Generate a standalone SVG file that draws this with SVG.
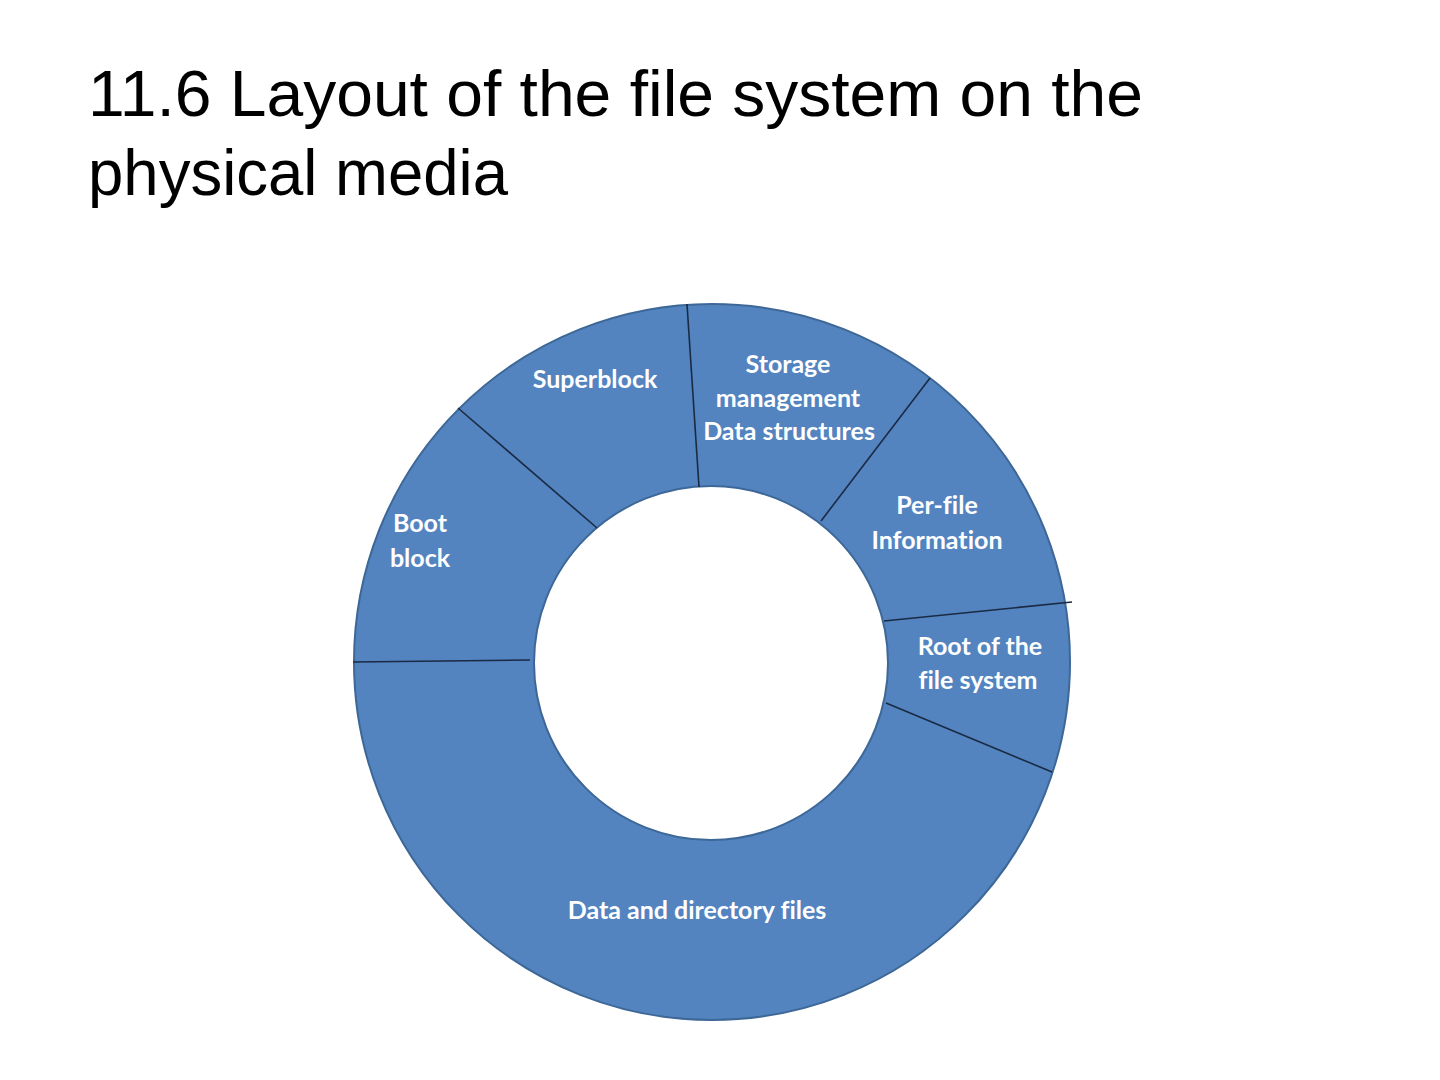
<svg xmlns="http://www.w3.org/2000/svg" width="1440" height="1080" viewBox="0 0 1440 1080">
<style>
.title{font-family:"Liberation Sans",Arial,sans-serif;font-size:64px;fill:#000}
.lbl{font-family:Lato,"Open Sans",sans-serif;font-weight:bold;font-size:25px;fill:#fff;text-anchor:middle;font-variant-ligatures:none}
.div{stroke:#1a2a44;stroke-width:1.6;fill:none}
</style>
<rect width="1440" height="1080" fill="#fff"/>
<g id="title">
<text class="title" x="88" y="116" textLength="1055" lengthAdjust="spacingAndGlyphs">11.6 Layout of the file system on the</text>
<text class="title" x="88" y="195" textLength="420" lengthAdjust="spacingAndGlyphs">physical media</text>
</g>
<g id="ring">
<path d="M 354 662 A 358 358 0 1 0 1070 662 A 358 358 0 1 0 354 662 Z M 534 663 A 177 177 0 1 1 888 663 A 177 177 0 1 1 534 663 Z" fill="#5384bf" fill-rule="evenodd" stroke="#3d6797" stroke-width="2"/>
</g>
<g id="connectors">
<line class="div" x1="353" y1="662" x2="530" y2="660"/>
<line class="div" x1="458" y1="408" x2="597" y2="528"/>
<line class="div" x1="687" y1="304" x2="699" y2="487"/>
<line class="div" x1="930" y1="378" x2="821" y2="521"/>
<line class="div" x1="884" y1="621" x2="1072" y2="602"/>
<line class="div" x1="886" y1="703" x2="1052" y2="772"/>
</g>
<g id="boot"><text class="lbl" x="420" y="532">Boot</text><text class="lbl" x="420" y="567">block</text></g>
<g id="superblock"><text class="lbl" x="595" y="388">Superblock</text></g>
<g id="storage"><text class="lbl" x="788" y="373">Storage</text><text class="lbl" x="788" y="407">management</text><text class="lbl" x="789" y="440">Data structures</text></g>
<g id="perfile"><text class="lbl" x="937" y="514">Per-file</text><text class="lbl" x="937" y="549">Information</text></g>
<g id="root"><text class="lbl" x="980" y="655">Root of the</text><text class="lbl" x="978" y="689">file system</text></g>
<g id="data"><text class="lbl" x="697" y="919">Data and directory files</text></g>
</svg>
